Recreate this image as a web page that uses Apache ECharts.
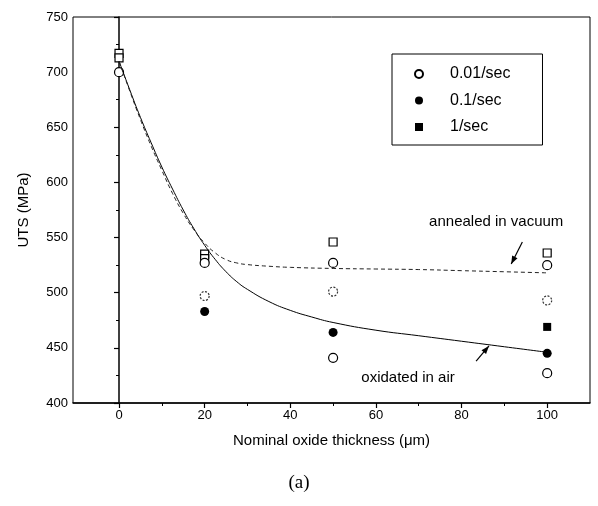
<!DOCTYPE html>
<html>
<head>
<meta charset="utf-8">
<script src="https://cdn.jsdelivr.net/npm/echarts@6/dist/echarts.min.js"></script>
<style>
  html, body { margin: 0; padding: 0; background: #fff; }
  #chart { width: 598px; height: 506px; }
</style>
</head>
<body>
<div id="chart"></div>
<script>
// Tensile strength vs. nominal oxide thickness
const xTicks = [0, 20, 40, 60, 80, 100];
const xMinorTicks = [10, 30, 50, 70, 90];

// [thickness (um), UTS (MPa)]
const rate001Open = [[0, 700], [20, 527], [50, 527], [100, 525], [50, 441], [100, 427]];
const rate001Dotted = [[20, 497], [50, 501], [100, 493]];
const rate01Filled = [[20, 483], [50, 464], [100, 445]];
const rate1Filled = [[100, 469]];
const annealedSquares = [[0, 717], [0, 713], [20, 535], [20, 531], [50, 546], [100, 536]];

// fitted trend curves
const airCurveX = [0, 2.5, 5, 7.5, 10, 12.5, 15, 17.5, 20, 22.5, 25, 27.5, 30, 35, 40, 45, 50, 60, 70, 80, 90, 100];
const airCurveY = [710, 684, 659, 636, 614, 594, 575, 558, 543, 530, 519, 510, 503, 492, 484, 478, 473, 466, 461, 456, 451, 446];
const vacCurveX = [0, 2.5, 5, 7.5, 10, 12.5, 15, 17.5, 20, 22.5, 25, 27.5, 30, 35, 40, 50, 60, 70, 80, 90, 100];
const vacCurveY = [710, 683, 657, 633, 611, 590, 572, 557, 545, 536, 530, 527, 525.5, 524, 523, 522, 521.5, 521, 520, 519, 518];

const pairs = (xs, ys) => xs.map((x, i) => [x, ys[i]]);

const font = '"Liberation Sans", Arial, sans-serif';
const chart = echarts.init(document.getElementById('chart'));

const X_MIN = -10.75, X_MAX = 110;

chart.setOption({
  backgroundColor: '#fff',
  animation: false,
  grid: { left: 73, right: 8, top: 17, bottom: 103, show: true, borderColor: '#000', borderWidth: 1 },
  legend: {
    data: [
      { name: '0.01/sec', icon: 'circle' },
      { name: '0.1/sec', icon: 'circle' },
      { name: '1/sec', icon: 'rect' }
    ],
    orient: 'vertical',
    left: 392, top: 54,
    itemWidth: 8, itemHeight: 8, itemGap: 8.5,
    padding: [11, 32, 9, 22],
    borderColor: '#000', borderWidth: 1,
    backgroundColor: '#fff',
    textStyle: { fontFamily: font, fontSize: 16, color: '#000', lineHeight: 18, padding: [0, 0, 0, 22] }
  },
  xAxis: [{
    type: 'value', min: X_MIN, max: X_MAX,
    name: 'Nominal oxide thickness (\u03bcm)', nameLocation: 'middle', nameGap: 30,
    nameTextStyle: { fontFamily: font, fontSize: 15, color: '#000' },
    axisLine: { show: true, onZero: false, lineStyle: { color: '#000', width: 1.5 } },
    axisTick: { show: true, length: 5, customValues: xTicks, lineStyle: { color: '#000', width: 1.2 } },
    axisLabel: { customValues: xTicks, fontFamily: font, fontSize: 13, color: '#000', margin: 6 },
    splitLine: { show: false }
  }, {
    type: 'value', min: X_MIN, max: X_MAX, position: 'bottom',
    axisLine: { show: false },
    axisTick: { show: true, length: 3, customValues: xMinorTicks, lineStyle: { color: '#000', width: 1 } },
    axisLabel: { show: false },
    splitLine: { show: false }
  }],
  yAxis: {
    type: 'value', min: 400, max: 750, interval: 50,
    name: 'UTS (MPa)', nameLocation: 'middle', nameGap: 42, nameRotate: 90,
    nameTextStyle: { fontFamily: font, fontSize: 15, color: '#000' },
    axisLine: { show: true, lineStyle: { color: '#000', width: 1.5 } },
    axisTick: { show: true, length: 5, lineStyle: { color: '#000', width: 1.2 } },
    minorTick: { show: true, splitNumber: 2, length: 3, lineStyle: { color: '#000', width: 1 } },
    axisLabel: { fontFamily: font, fontSize: 13, color: '#000', margin: 5 },
    splitLine: { show: false }
  },
  series: [
    {
      name: 'oxidated in air', type: 'line', data: pairs(airCurveX, airCurveY),
      smooth: 0.5, symbol: 'none', silent: true,
      lineStyle: { color: '#000', width: 1 }
    },
    {
      name: 'annealed in vacuum', type: 'line', data: pairs(vacCurveX, vacCurveY),
      smooth: 0.5, symbol: 'none', silent: true,
      lineStyle: { color: '#222', width: 1, type: [4, 3] }
    },
    {
      name: 'annealed squares', type: 'scatter', data: annealedSquares,
      symbol: 'rect', symbolSize: 8,
      itemStyle: { color: '#fff', borderColor: '#000', borderWidth: 1.2, opacity: 1 }
    },
    {
      name: '0.01/sec', type: 'scatter', data: rate001Open,
      symbol: 'circle', symbolSize: 9,
      itemStyle: { color: '#fff', borderColor: '#000', borderWidth: 1.2, opacity: 1 }
    },
    {
      name: '0.01/sec dotted', type: 'scatter', data: rate001Dotted,
      symbol: 'circle', symbolSize: 9,
      itemStyle: { color: '#fff', borderColor: '#333', borderWidth: 1.2, borderType: [2, 1.5], opacity: 1 }
    },
    {
      name: '0.1/sec', type: 'scatter', data: rate01Filled,
      symbol: 'circle', symbolSize: 9,
      itemStyle: { color: '#000', borderColor: '#000', borderWidth: 0, opacity: 1 }
    },
    {
      name: '1/sec', type: 'scatter', data: rate1Filled,
      symbol: 'rect', symbolSize: 8,
      itemStyle: { color: '#000', borderColor: '#000', borderWidth: 0, opacity: 1 }
    }
  ]
});

// annotation labels with arrows, placed in data coordinates
const notes = [
  { text: 'annealed in vacuum', at: [88.1, 564], tail: [94.2, 546], tip: [91.6, 526] },
  { text: 'oxidated in air', at: [67.5, 423], tail: [83.4, 438], tip: [86.4, 451.7] }
];
const px = p => chart.convertToPixel({ xAxisIndex: 0, yAxisIndex: 0 }, p);
const graphics = [];
notes.forEach(n => {
  const c = px(n.at), a = px(n.tail), b = px(n.tip);
  graphics.push({
    type: 'text', x: c[0], y: c[1],
    style: { text: n.text, font: '15px ' + font, fill: '#000', align: 'center', verticalAlign: 'middle' }
  });
  graphics.push({
    type: 'line', shape: { x1: a[0], y1: a[1], x2: b[0], y2: b[1] },
    style: { stroke: '#000', lineWidth: 1.2 }
  });
  const ang = Math.atan2(b[1] - a[1], b[0] - a[0]);
  const L = 8, W = 3;
  const bx = b[0] - L * Math.cos(ang), by = b[1] - L * Math.sin(ang);
  graphics.push({
    type: 'polygon',
    shape: { points: [
      [b[0], b[1]],
      [bx + W * Math.sin(ang), by - W * Math.cos(ang)],
      [bx - W * Math.sin(ang), by + W * Math.cos(ang)]
    ] },
    style: { fill: '#000' }
  });
});
graphics.push({
  type: 'text', left: 'center', top: 474,
  style: { text: '(a)', font: '19px "Liberation Serif", "Times New Roman", serif', fill: '#000' }
});
chart.setOption({ graphic: graphics });
</script>
</body>
</html>
